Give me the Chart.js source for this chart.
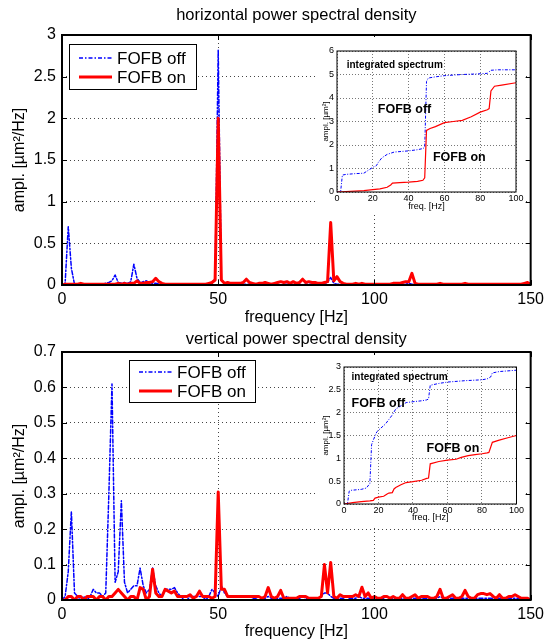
<!DOCTYPE html>
<html>
<head>
<meta charset="utf-8">
<script src="https://cdn.jsdelivr.net/npm/chart.js@4.4.1/dist/chart.umd.min.js"></script>
<style>
  body { margin: 0; background: #fff; overflow: hidden; }
  #wrap { position: relative; width: 549px; height: 641px; }
  canvas { position: absolute; }
  .inset { background: #fff; }
</style>
</head>
<body>
<div id="wrap">
  <canvas id="hMain" width="549" height="330" style="left:0;top:0"></canvas>
  <canvas id="vMain" width="549" height="311" style="left:0;top:330px"></canvas>
  <canvas id="hInset" class="inset" width="208" height="178" style="left:317px;top:37px"></canvas>
  <canvas id="vInset" class="inset" width="208" height="170" style="left:317px;top:355px"></canvas>
</div>
<script>
/*******************************************************************************/
// Datos

const seriesNames = ["FOFB off", "FOFB on"];
const titles = ["horizontal power spectral density", "vertical power spectral density"];
const insetLabels = ["integrated spectrum", "FOFB off", "FOFB on"];

// frecuencias del espectro: 0..150 Hz, paso de 1 Hz
const hzBins = [];
for (let f = 0; f <= 150; f++) hzBins.push(f);

// espectro horizontal
const hOff = [
  0.00,0.02,0.70,0.20,0.01,0.01,0.01,0.01,0.00,0.01,
  0.01,0.00,0.01,0.01,0.02,0.03,0.05,0.12,0.03,0.02,
  0.03,0.02,0.04,0.25,0.08,0.03,0.04,0.05,0.03,0.02,
  0.02,0.01,0.01,0.01,0.00,0.01,0.01,0.00,0.01,0.01,
  0.00,0.01,0.01,0.01,0.00,0.01,0.01,0.01,0.02,0.08,
  2.82,0.06,0.02,0.01,0.01,0.00,0.01,0.01,0.01,0.01,
  0.01,0.00,0.01,0.01,0.00,0.01,0.01,0.00,0.01,0.01,
  0.00,0.01,0.01,0.00,0.01,0.01,0.01,0.00,0.01,0.01,
  0.01,0.01,0.01,0.01,0.02,0.03,0.09,0.02,0.01,0.01,
  0.00,0.01,0.01,0.00,0.01,0.01,0.00,0.01,0.01,0.00,
  0.01,0.00,0.01,0.01,0.00,0.01,0.01,0.01,0.01,0.01,
  0.01,0.02,0.01,0.00,0.01,0.00,0.01,0.00,0.01,0.00,
  0.00,0.01,0.00,0.01,0.00,0.00,0.01,0.00,0.00,0.01,
  0.00,0.00,0.01,0.00,0.00,0.01,0.00,0.00,0.00,0.01,
  0.00,0.00,0.01,0.00,0.00,0.00,0.01,0.00,0.00,0.01,
  0.00
];
const hOn = [
  0.00,0.01,0.01,0.01,0.01,0.01,0.02,0.01,0.01,0.01,
  0.01,0.01,0.01,0.01,0.01,0.01,0.01,0.01,0.02,0.01,
  0.02,0.01,0.02,0.02,0.05,0.02,0.02,0.03,0.03,0.04,
  0.08,0.04,0.02,0.01,0.01,0.01,0.01,0.01,0.01,0.01,
  0.01,0.01,0.01,0.01,0.01,0.01,0.01,0.02,0.03,0.06,
  2.00,0.06,0.02,0.03,0.02,0.02,0.02,0.02,0.03,0.07,
  0.03,0.02,0.01,0.02,0.02,0.03,0.02,0.01,0.02,0.03,
  0.04,0.03,0.04,0.02,0.04,0.02,0.03,0.07,0.03,0.04,
  0.03,0.03,0.02,0.02,0.03,0.04,0.75,0.05,0.10,0.04,
  0.02,0.01,0.01,0.01,0.02,0.01,0.02,0.01,0.01,0.01,
  0.01,0.01,0.01,0.01,0.01,0.01,0.02,0.02,0.02,0.03,
  0.04,0.04,0.14,0.02,0.01,0.01,0.01,0.01,0.01,0.01,
  0.01,0.02,0.01,0.01,0.01,0.01,0.01,0.01,0.01,0.02,
  0.01,0.01,0.01,0.01,0.01,0.01,0.01,0.01,0.01,0.01,
  0.01,0.01,0.01,0.01,0.01,0.01,0.01,0.01,0.02,0.03,
  0.01
];

// espectro vertical
const vOff = [
  0.00,0.01,0.08,0.25,0.02,0.01,0.00,0.01,0.00,0.01,
  0.03,0.02,0.02,0.01,0.02,0.30,0.61,0.05,0.08,0.28,
  0.05,0.02,0.03,0.04,0.04,0.09,0.04,0.02,0.03,0.09,
  0.04,0.02,0.01,0.03,0.03,0.03,0.035,0.02,0.01,0.00,
  0.00,0.01,0.01,0.01,0.01,0.01,0.00,0.01,0.03,0.02,
  0.01,0.04,0.02,0.01,0.01,0.01,0.01,0.01,0.01,0.01,
  0.01,0.005,0.005,0.01,0.005,0.005,0.01,0.005,0.005,0.005,
  0.005,0.005,0.01,0.005,0.005,0.005,0.005,0.01,0.005,0.005,
  0.005,0.005,0.005,0.01,0.02,0.02,0.01,0.005,0.005,0.005,
  0.005,0.01,0.005,0.005,0.005,0.01,0.005,0.005,0.005,0.005,
  0.005,0.005,0.005,0.005,0.01,0.005,0.005,0.005,0.005,0.005,
  0.005,0.005,0.005,0.005,0.005,0.005,0.005,0.005,0.005,0.005,
  0.005,0.01,0.005,0.005,0.005,0.005,0.005,0.005,0.005,0.005,
  0.005,0.005,0.005,0.005,0.005,0.005,0.005,0.005,0.005,0.005,
  0.005,0.005,0.005,0.005,0.005,0.005,0.005,0.005,0.005,0.005,
  0.00
];
const vOn = [
  0.00,0.00,0.01,0.01,0.00,0.01,0.01,0.00,0.01,0.01,
  0.01,0.00,0.01,0.01,0.00,0.01,0.01,0.02,0.03,0.02,
  0.01,0.00,0.01,0.01,0.00,0.035,0.03,0.00,0.01,0.087,
  0.02,0.01,0.01,0.03,0.025,0.02,0.025,0.01,0.01,0.01,
  0.01,0.015,0.005,0.01,0.025,0.01,0.01,0.01,0.005,0.01,
  0.305,0.03,0.03,0.01,0.01,0.01,0.01,0.01,0.01,0.01,
  0.01,0.01,0.01,0.01,0.005,0.01,0.035,0.01,0.005,0.01,
  0.027,0.005,0.005,0.005,0.005,0.005,0.01,0.01,0.01,0.005,
  0.005,0.005,0.005,0.01,0.10,0.02,0.106,0.01,0.005,0.015,
  0.01,0.01,0.01,0.01,0.015,0.01,0.036,0.01,0.02,0.005,
  0.01,0.005,0.005,0.01,0.01,0.005,0.01,0.005,0.005,0.015,
  0.005,0.005,0.01,0.015,0.005,0.01,0.01,0.01,0.005,0.005,
  0.01,0.03,0.005,0.005,0.01,0.015,0.005,0.005,0.01,0.027,
  0.01,0.005,0.005,0.015,0.018,0.018,0.015,0.018,0.01,0.005,
  0.015,0.005,0.005,0.01,0.01,0.015,0.01,0.005,0.005,0.005,
  0.00
];

// espectro integrado (insertos)
const iOffHF = [0, 2, 3, 5, 10, 15, 18, 20, 22, 23, 25, 28, 32, 40, 45, 48, 49, 50, 51, 55, 60, 70, 80, 84, 86, 90, 100];
const iOffHV = [0, 0, 0.72, 0.75, 0.78, 0.8, 0.95, 1.05, 1.12, 1.25, 1.45, 1.6, 1.7, 1.75, 1.8, 1.85, 1.9, 4.7, 4.85, 4.9, 4.95, 5.0, 5.03, 5.05, 5.18, 5.2, 5.2];
const iOnHF = [0, 5, 10, 15, 20, 24, 28, 30, 31, 35, 40, 45, 48, 49, 50, 52, 55, 60, 65, 70, 75, 80, 84, 85, 86, 88, 92, 100];
const iOnHV = [0, 0.02, 0.04, 0.06, 0.1, 0.13, 0.2, 0.3, 0.38, 0.4, 0.42, 0.45, 0.5, 0.6, 2.62, 2.7, 2.78, 2.95, 3.0, 3.05, 3.2, 3.4, 3.5, 3.55, 4.3, 4.5, 4.55, 4.65];

const iOffVF = [0, 2, 3, 4, 10, 13, 15, 16, 17, 19, 21, 24, 26, 28, 30, 33, 36, 40, 45, 48, 49, 50, 55, 60, 70, 80, 83, 85, 86, 90, 100];
const iOffVV = [0, 0, 0.28, 0.3, 0.32, 0.35, 0.45, 1.3, 1.4, 1.58, 1.65, 1.75, 1.85, 1.95, 2.08, 2.15, 2.22, 2.24, 2.26, 2.28, 2.3, 2.6, 2.64, 2.67, 2.7, 2.72, 2.74, 2.78, 2.87, 2.9, 2.93];
const iOnVF = [0, 5, 10, 15, 17, 18, 20, 23, 25, 26, 28, 29, 30, 33, 36, 40, 45, 48, 49, 50, 55, 60, 65, 68, 72, 76, 80, 83, 84, 86, 90, 95, 100];
const iOnVV = [0, 0.03, 0.05, 0.07, 0.08, 0.13, 0.15, 0.17, 0.22, 0.24, 0.25, 0.33, 0.36, 0.42, 0.47, 0.49, 0.52, 0.56, 0.57, 0.88, 0.93, 0.96, 0.98, 1.02, 1.06, 1.08, 1.1, 1.12, 1.13, 1.35, 1.4, 1.45, 1.5];

/*******************************************************************************/
// Utilidades

const FONT = "'Liberation Sans', Arial, Helvetica, sans-serif";
Chart.defaults.font.family = FONT;
Chart.defaults.color = "#000";

function pts(xs, ys) {
    return ys.map((y, i) => ({ x: xs[i], y: y }));
}

// etiquetas sin ceros de sobra: 3, 2.5, 2 ...
function numLabel(v) {
    return String(Math.round(v * 100) / 100);
}

// marco negro + marcas hacia dentro (estilo matlab)
const framePlugin = {
    id: "frame",
    afterDraw(chart, args, opts) {
        const { ctx, chartArea: a, scales } = chart;
        ctx.save();
        ctx.strokeStyle = "#000";
        ctx.lineWidth = 1;
        const t = opts.tick || 0;
        if (t > 0) {
            ctx.beginPath();
            scales.x.ticks.forEach((tk) => {
                const px = Math.round(scales.x.getPixelForValue(tk.value)) + 0.5;
                ctx.moveTo(px, a.bottom); ctx.lineTo(px, a.bottom - t);
                ctx.moveTo(px, a.top); ctx.lineTo(px, a.top + t);
            });
            scales.y.ticks.forEach((tk) => {
                const py = Math.round(scales.y.getPixelForValue(tk.value)) + 0.5;
                ctx.moveTo(a.left, py); ctx.lineTo(a.left + t, py);
                ctx.moveTo(a.right, py); ctx.lineTo(a.right - t, py);
            });
            ctx.stroke();
        }
        ctx.lineWidth = opts.lineWidth;
        ctx.strokeRect(a.left, a.top, a.right - a.left, a.bottom - a.top);
        ctx.restore();
    }
};

// titulo centrado sobre el area del grafico
const areaTitle = {
    id: "areaTitle",
    afterDraw(chart, args, o) {
        if (!o || !o.text) return;
        const { ctx, chartArea: a } = chart;
        ctx.save();
        ctx.fillStyle = "#000";
        ctx.font = "16.5px " + FONT;
        ctx.textAlign = "center";
        ctx.textBaseline = "middle";
        ctx.fillText(o.text, (a.left + a.right) / 2, o.y);
        ctx.restore();
    }
};

// leyenda con caja
const boxLegend = {
    id: "boxLegend",
    afterDraw(chart, args, o) {
        if (!o || o.w === undefined) return;
        const { ctx, chartArea: a } = chart;
        const x0 = Math.round(a.left + o.dx), y0 = Math.round(a.top + o.dy);
        ctx.save();
        ctx.fillStyle = "#fff";
        ctx.fillRect(x0, y0, o.w, o.h);
        ctx.strokeStyle = "#000";
        ctx.lineWidth = 1;
        ctx.strokeRect(x0 + 0.5, y0 + 0.5, o.w, o.h);
        chart.data.datasets.forEach((ds, i) => {
            const yy = y0 + (i === 0 ? o.row1 : o.row2);
            ctx.beginPath();
            ctx.strokeStyle = ds.borderColor;
            ctx.lineWidth = ds.borderWidth;
            ctx.setLineDash(ds.borderDash || []);
            ctx.moveTo(x0 + 10, yy);
            ctx.lineTo(x0 + 43, yy);
            ctx.stroke();
            ctx.setLineDash([]);
            ctx.fillStyle = "#000";
            ctx.font = "17px " + FONT;
            ctx.textBaseline = "middle";
            ctx.fillText(ds.label, x0 + 48, yy + 1);
        });
        ctx.restore();
    }
};

// textos dentro del inserto
const insetText = {
    id: "insetText",
    afterDatasetsDraw(chart, args, o) {
        const { ctx, scales } = chart;
        ctx.save();
        ctx.fillStyle = "#000";
        ctx.textBaseline = "middle";
        insetLabels.forEach((txt, i) => {
            const pos = o.at[i];
            ctx.font = "bold " + (i === 0 ? 10 : 12.5) + "px " + FONT;
            ctx.fillText(txt, scales.x.getPixelForValue(pos[0]), scales.y.getPixelForValue(pos[1]));
        });
        ctx.restore();
    }
};

/*******************************************************************************/
// Graficos principales

function mainChart(id, o) {
    return new Chart(document.getElementById(id), {
        type: "line",
        data: {
            datasets: [
                { label: seriesNames[0], data: pts(hzBins, o.off), borderColor: "#0000ff", borderWidth: 1.5, borderDash: [4, 2, 1.5, 2], order: 1 },
                { label: seriesNames[1], data: pts(hzBins, o.on), borderColor: "#ff0000", borderWidth: 3, order: 0 }
            ]
        },
        options: {
            responsive: false,
            animation: false,
            events: [],
            layout: { padding: { left: 0, right: 17, top: o.padT, bottom: 0 } },
            elements: { point: { radius: 0 }, line: { tension: 0, borderJoinStyle: "round", borderCapStyle: "round" } },
            plugins: {
                legend: { display: false },
                tooltip: { enabled: false },
                title: { display: false },
                areaTitle: { text: o.title, y: o.titleY },
                frame: { lineWidth: 2, tick: 5 },
                boxLegend: o.legend
            },
            scales: {
                x: {
                    type: "linear", min: 0, max: 150,
                    ticks: { stepSize: 50, font: { size: 16 }, padding: 5, maxRotation: 0, color: "#000" },
                    grid: { color: "#444", lineWidth: 1, drawTicks: false },
                    border: { display: false, dash: [1, 3] },
                    title: { display: true, text: "frequency [Hz]", color: "#000", font: { size: 16 }, padding: { top: 0, bottom: o.xTitlePad } },
                    afterFit: (s) => { s.height = o.xH; }
                },
                y: {
                    min: 0, max: o.yMax,
                    ticks: { stepSize: o.yStep, font: { size: 16 }, padding: 6, color: "#000", callback: numLabel },
                    grid: { color: "#444", lineWidth: 1, drawTicks: false },
                    border: { display: false, dash: [1, 3] },
                    title: { display: true, text: "ampl. [µm²/Hz]", color: "#000", font: { size: 16 }, padding: { top: 10, bottom: 0 } },
                    afterFit: (s) => { s.width = 62; }
                }
            }
        },
        plugins: [framePlugin, areaTitle, boxLegend]
    });
}

mainChart("hMain", {
    title: titles[0], off: hOff, on: hOn, yMax: 3, yStep: 0.5,
    xH: 45, xTitlePad: 3, padT: 35, titleY: 15,
    legend: { dx: 7, dy: 9, w: 127, h: 45, row1: 14, row2: 33 }
});

mainChart("vMain", {
    title: titles[1], off: vOff, on: vOn, yMax: 0.7, yStep: 0.1,
    xH: 41, xTitlePad: 0, padT: 22, titleY: 9,
    legend: { dx: 67, dy: 8, w: 126, h: 42, row1: 12, row2: 31 }
});

/*******************************************************************************/
// Insertos (espectro integrado)

function insetChart(id, o) {
    return new Chart(document.getElementById(id), {
        type: "line",
        data: {
            datasets: [
                { label: seriesNames[0], data: pts(o.offF, o.offV), borderColor: "#0000ff", borderWidth: 1, borderDash: [3, 1.5, 1, 1.5], order: 1 },
                { label: seriesNames[1], data: pts(o.onF, o.onV), borderColor: "#ff0000", borderWidth: 1.2, order: 0 }
            ]
        },
        options: {
            responsive: false,
            animation: false,
            events: [],
            layout: { padding: { left: 0, right: o.padR, top: o.padT, bottom: 0 } },
            elements: { point: { radius: 0 }, line: { tension: 0 } },
            plugins: {
                legend: { display: false },
                tooltip: { enabled: false },
                frame: { lineWidth: 1, tick: 0 },
                insetText: { at: o.textAt }
            },
            scales: {
                x: {
                    type: "linear", min: 0, max: 100,
                    ticks: { stepSize: 20, font: { size: 9 }, padding: 1, maxRotation: 0, color: "#000" },
                    grid: { color: "#777", lineWidth: 1, drawTicks: false },
                    border: { display: false, dash: [1, 2] },
                    title: { display: true, text: "freq. [Hz]", color: "#000", font: { size: 9 }, padding: { top: 0, bottom: o.xTitlePad } },
                    afterFit: (s) => { s.height = o.xH; }
                },
                y: {
                    min: 0, max: o.yMax,
                    ticks: { stepSize: o.yStep, font: { size: 9 }, padding: 3, color: "#000", callback: numLabel },
                    grid: { color: "#777", lineWidth: 1, drawTicks: false },
                    border: { display: false, dash: [1, 2] },
                    title: { display: true, text: "ampl. [µm²]", color: "#000", font: { size: 8 }, padding: { top: 3.5, bottom: 0 } },
                    afterFit: (s) => { s.width = o.yW; }
                }
            }
        },
        plugins: [framePlugin, insetText]
    });
}

insetChart("hInset", {
    offF: iOffHF, offV: iOffHV, onF: iOnHF, onV: iOnHV,
    yMax: 6, yStep: 1, yW: 20, xH: 23, padR: 9, padT: 14, xTitlePad: 3,
    textAt: [[5.4, 5.39], [22.8, 3.52], [53.6, 1.48]]
});

insetChart("vInset", {
    offF: iOffVF, offV: iOffVV, onF: iOnVF, onV: iOnVV,
    yMax: 3, yStep: 0.5, yW: 27, xH: 21, padR: 8, padT: 12, xTitlePad: 2.3,
    textAt: [[4.4, 2.77], [4.4, 2.19], [47.9, 1.22]]
});
</script>
</body>
</html>
